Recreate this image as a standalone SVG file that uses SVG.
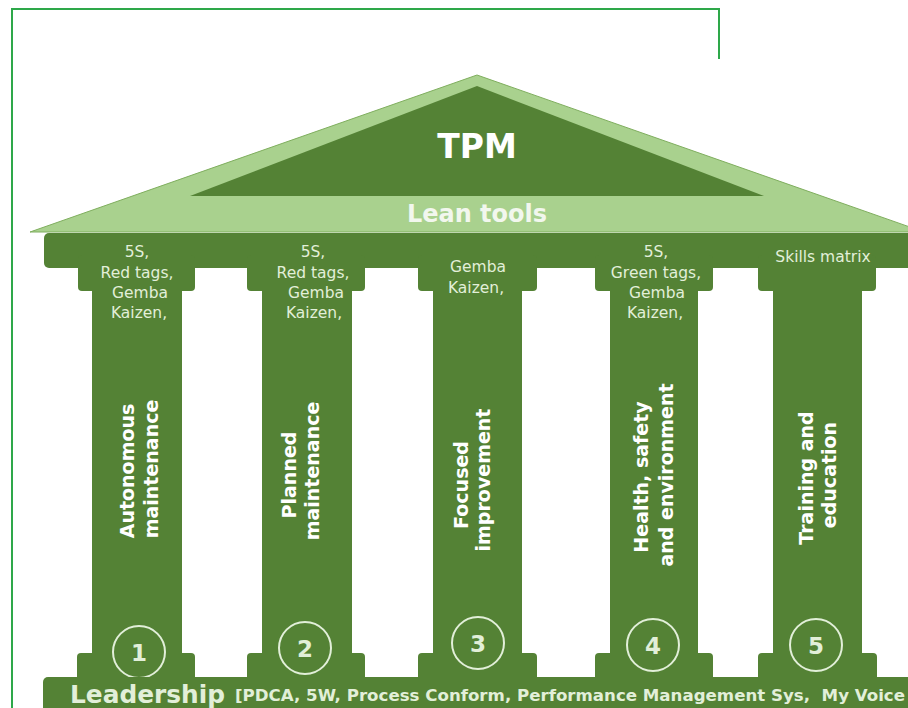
<svg xmlns="http://www.w3.org/2000/svg" width="908" height="708" viewBox="0 0 908 708">
<style>
.dk{fill:#548235}
.lt{fill:#a9d18e}
.cap{font-family:"DejaVu Sans",Verdana,sans-serif;font-size:15.5px;fill:#e2efd9;text-anchor:middle}
.vt{font-family:"DejaVu Sans",Verdana,sans-serif;font-size:19px;font-weight:bold;fill:#ffffff;text-anchor:middle}
.num{font-family:"DejaVu Sans",Verdana,sans-serif;font-size:23px;font-weight:bold;fill:#e2efd9;text-anchor:middle}
.ring{fill:none;stroke:#e2efd9;stroke-width:2}
</style>
<rect width="908" height="708" fill="#ffffff"/>
<path d="M12,708 V9 H719 V59" fill="none" stroke="#2ea84a" stroke-width="2"/>

<g id="roof">
<polygon points="477,75 30,232 924,232" class="lt" stroke="#7fae5e" stroke-width="1"/>
<polygon points="477,86 190,196 764,196" class="dk"/>
<text x="477" y="158" font-family="DejaVu Sans,Verdana,sans-serif" font-size="33" font-weight="bold" fill="#ffffff" text-anchor="middle">TPM</text>
<text x="477" y="222" font-family="DejaVu Sans,Verdana,sans-serif" font-size="24" font-weight="bold" fill="#f2f7ee" text-anchor="middle">Lean tools</text>
</g>

<g id="entablature">
<rect x="44" y="233" width="880" height="35" rx="5" class="dk"/>
</g>

<g id="col1">
<rect x="78" y="255" width="117" height="36" rx="4" class="dk"/>
<rect x="92" y="285" width="90" height="375" class="dk"/>
<rect x="77" y="653" width="118" height="40" rx="4" class="dk"/>
<text class="cap" x="137" y="257">5S,</text>
<text class="cap" x="137" y="278">Red tags,</text>
<text class="cap" x="140" y="298">Gemba</text>
<text class="cap" x="139" y="318">Kaizen,</text>
<text class="vt" transform="translate(134,471) rotate(-90)">Autonomous</text>
<text class="vt" transform="translate(158,469) rotate(-90)">maintenance</text>
<circle class="ring" cx="139" cy="652" r="26"/>
<text class="num" x="139" y="661">1</text>
</g>

<g id="col2">
<rect x="247" y="255" width="118" height="36" rx="4" class="dk"/>
<rect x="262" y="285" width="90" height="375" class="dk"/>
<rect x="247" y="653" width="118" height="40" rx="4" class="dk"/>
<text class="cap" x="313" y="257">5S,</text>
<text class="cap" x="313" y="278">Red tags,</text>
<text class="cap" x="316" y="298">Gemba</text>
<text class="cap" x="314" y="318">Kaizen,</text>
<text class="vt" transform="translate(296,475) rotate(-90)">Planned</text>
<text class="vt" transform="translate(319,471) rotate(-90)">maintenance</text>
<circle class="ring" cx="305" cy="648" r="26"/>
<text class="num" x="305" y="657">2</text>
</g>

<g id="col3">
<rect x="418" y="255" width="119" height="36" rx="4" class="dk"/>
<rect x="433" y="285" width="89" height="375" class="dk"/>
<rect x="418" y="653" width="119" height="40" rx="4" class="dk"/>
<text class="cap" x="478" y="272">Gemba</text>
<text class="cap" x="476" y="293">Kaizen,</text>
<text class="vt" transform="translate(468,485) rotate(-90)">Focused</text>
<text class="vt" transform="translate(490,480) rotate(-90)">improvement</text>
<circle class="ring" cx="478" cy="643" r="26"/>
<text class="num" x="478" y="652">3</text>
</g>

<g id="col4">
<rect x="595" y="255" width="118" height="36" rx="4" class="dk"/>
<rect x="610" y="285" width="88" height="375" class="dk"/>
<rect x="595" y="653" width="118" height="40" rx="4" class="dk"/>
<text class="cap" x="656" y="257">5S,</text>
<text class="cap" x="656" y="278">Green tags,</text>
<text class="cap" x="657" y="298">Gemba</text>
<text class="cap" x="655" y="318">Kaizen,</text>
<text class="vt" transform="translate(648,477) rotate(-90)">Health, safety</text>
<text class="vt" transform="translate(673,475) rotate(-90)">and environment</text>
<circle class="ring" cx="653" cy="645" r="26"/>
<text class="num" x="653" y="654">4</text>
</g>

<g id="col5">
<rect x="758" y="255" width="118" height="36" rx="4" class="dk"/>
<rect x="773" y="285" width="89" height="375" class="dk"/>
<rect x="758" y="653" width="119" height="40" rx="4" class="dk"/>
<text class="cap" x="823" y="262">Skills matrix</text>
<text class="vt" transform="translate(813,478) rotate(-90)">Training and</text>
<text class="vt" transform="translate(836,475) rotate(-90)">education</text>
<circle class="ring" cx="816" cy="645" r="26"/>
<text class="num" x="816" y="654">5</text>
</g>

<g id="base">
<rect x="43" y="677" width="880" height="40" rx="5" class="dk"/>
<text x="70" y="703" font-family="DejaVu Sans,Verdana,sans-serif" font-size="25" font-weight="bold" fill="#e2efd9" textLength="155" lengthAdjust="spacingAndGlyphs">Leadership</text>
<text x="235" y="701" font-family="DejaVu Sans,Verdana,sans-serif" font-size="16" font-weight="bold" fill="#e2efd9" textLength="670" lengthAdjust="spacingAndGlyphs" xml:space="preserve">[PDCA, 5W, Process Conform, Performance Management Sys,  My Voice</text>
</g>
</svg>
